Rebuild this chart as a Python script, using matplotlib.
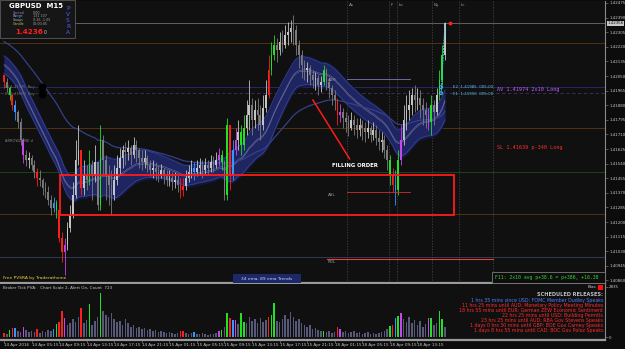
import matplotlib
matplotlib.use('Agg')
import matplotlib.pyplot as plt
from matplotlib.patches import Rectangle
import numpy as np
import pandas as pd

# [START data]  GBPUSD M15, prices in points above 1.40000
close_pts = [2015, 1980, 1939, 1881, 1840, 1782, 1677, 1590, 1561, 1572,
             1532, 1491, 1456, 1444, 1398, 1375, 1328, 1281, 1310, 1270,
             1107, 1025, 1066, 1165, 1241, 1357, 1561, 1619, 1398, 1473,
             1444, 1532, 1473, 1549, 1299, 1677, 1561, 1473, 1415, 1357,
             1444, 1514, 1572, 1619, 1607, 1631, 1590, 1648, 1619, 1572,
             1549, 1572, 1532, 1503, 1514, 1491, 1473, 1503, 1468, 1444,
             1456, 1433, 1444, 1415, 1386, 1409, 1456, 1491, 1514, 1491,
             1514, 1532, 1503, 1532, 1514, 1549, 1532, 1561, 1590, 1549,
             1357, 1764, 1473, 1619, 1677, 1724, 1648, 1747, 1823, 1881,
             1794, 1852, 1823, 1764, 1863, 1939, 2085, 2172, 2230, 2201,
             2248, 2230, 2288, 2306, 2329, 2317, 2230, 2172, 2114, 2085,
             2096, 2056, 2026, 2038, 1997, 2015, 2085, 2015, 1980, 1939,
             1910, 1823, 1840, 1805, 1782, 1747, 1794, 1764, 1735, 1764,
             1747, 1724, 1747, 1706, 1735, 1689, 1666, 1677, 1619, 1561,
             1473, 1415, 1386, 1561, 1677, 1794, 1852, 1881, 1939, 1910,
             1922, 1881, 1852, 1823, 1782, 1881, 1840, 1939, 2026, 2172,
             2356]
high_pts = [2056, 2038, 1992, 1945, 1910, 1852, 1805, 1689, 1619, 1607,
            1590, 1561, 1514, 1503, 1456, 1433, 1409, 1357, 1345, 1328,
            1299, 1142, 1107, 1200, 1299, 1433, 1677, 1764, 1619, 1561,
            1532, 1619, 1561, 1648, 1532, 1764, 1706, 1590, 1532, 1503,
            1532, 1590, 1631, 1648, 1666, 1677, 1648, 1695, 1677, 1631,
            1619, 1619, 1590, 1561, 1561, 1549, 1526, 1537, 1514, 1503,
            1503, 1491, 1491, 1473, 1456, 1456, 1503, 1532, 1561, 1549,
            1561, 1572, 1561, 1572, 1561, 1590, 1584, 1607, 1631, 1619,
            1561, 1805, 1764, 1677, 1747, 1794, 1764, 1823, 1910, 2026,
            1922, 1910, 1922, 1881, 1939, 2026, 2172, 2248, 2288, 2271,
            2306, 2317, 2347, 2364, 2376, 2405, 2347, 2259, 2201, 2143,
            2131, 2114, 2085, 2073, 2056, 2050, 2114, 2096, 2038, 1997,
            1968, 1922, 1887, 1863, 1840, 1823, 1840, 1823, 1805, 1805,
            1794, 1782, 1794, 1764, 1782, 1764, 1735, 1724, 1706, 1648,
            1590, 1514, 1503, 1619, 1764, 1881, 1939, 1968, 1980, 1997,
            1980, 1968, 1922, 1898, 1863, 1939, 1910, 1980, 2085, 2230,
            2364]
low_pts = [1980, 1957, 1910, 1852, 1794, 1747, 1648, 1543, 1526, 1514,
           1503, 1456, 1409, 1409, 1357, 1340, 1299, 1241, 1258, 1223,
           1084, 967, 891, 1037, 1142, 1223, 1340, 1532, 1357, 1357,
           1386, 1415, 1328, 1433, 1270, 1270, 1473, 1328, 1299, 1241,
           1328, 1415, 1473, 1514, 1532, 1561, 1532, 1572, 1549, 1514,
           1503, 1514, 1491, 1468, 1456, 1444, 1433, 1456, 1421, 1409,
           1409, 1386, 1398, 1375, 1340, 1351, 1386, 1433, 1456, 1444,
           1468, 1473, 1456, 1473, 1473, 1491, 1491, 1514, 1526, 1503,
           1328, 1328, 1386, 1444, 1590, 1619, 1590, 1619, 1706, 1735,
           1706, 1747, 1735, 1677, 1735, 1840, 1922, 2056, 2143, 2131,
           2172, 2189, 2213, 2230, 2248, 2230, 2172, 2096, 2038, 2026,
           2015, 1997, 1980, 1968, 1939, 1957, 1997, 1968, 1922, 1881,
           1852, 1764, 1782, 1747, 1724, 1700, 1735, 1706, 1689, 1700,
           1677, 1666, 1689, 1666, 1677, 1648, 1619, 1607, 1572, 1503,
           1415, 1375, 1299, 1357, 1532, 1648, 1735, 1794, 1823, 1840,
           1852, 1805, 1764, 1747, 1735, 1706, 1764, 1823, 1910, 1997,
           2143]
volume = [230, 170, 400, 510, 510, 340, 290, 570, 400, 290,
          340, 290, 460, 230, 340, 290, 400, 340, 460, 740,
          850, 1470, 1080, 680, 790, 1020, 850, 1130, 1640, 790,
          960, 1870, 680, 910, 1130, 2500, 1470, 1250, 1130, 1360,
          1020, 850, 910, 680, 1020, 790, 570, 680, 510, 570,
          460, 510, 400, 460, 340, 400, 290, 340, 290, 230,
          290, 230, 170, 230, 340, 340, 230, 170, 230, 290,
          170, 170, 230, 170, 110, 170, 170, 230, 340, 400,
          570, 1360, 1080, 960, 960, 740, 1360, 850, 790, 1130,
          910, 1020, 790, 1080, 850, 960, 1130, 1250, 1930, 910,
          850, 1020, 1250, 1020, 1420, 1130, 910, 1020, 790, 680,
          570, 680, 460, 510, 400, 340, 340, 290, 340, 230,
          290, 570, 460, 290, 340, 230, 290, 340, 230, 290,
          170, 230, 290, 170, 230, 170, 230, 290, 340, 460,
          620, 680, 1080, 1190, 1360, 1020, 850, 1130, 790, 960,
          680, 910, 570, 740, 1080, 1080, 680, 790, 1470, 1020,
          570]

# PVSRA coloured bars
red_bars = [0, 3, 12, 20, 21, 28, 64, 65, 82, 96, 121, 141]
green_bars = [2, 19, 31, 35, 79, 81, 86, 87, 97, 98, 116, 140, 143, 155, 158, 159]
blue_bars = [4, 18, 69, 83, 142]
magenta_bars = [7, 22, 78, 84, 122, 144, 154]

# indicator starting values
ribbon_start_hi = 1.42178
ribbon_start_lo = 1.42073
ema89_start = 1.42259

date_ticks = [0, 10, 20, 30, 40, 50, 60, 70, 80, 90, 100, 110, 120, 130, 140, 150]
date_labels = ['14 Apr 2016', '14 Apr 05:15', '14 Apr 09:15', '14 Apr 13:15',
               '14 Apr 17:15', '14 Apr 21:15', '15 Apr 01:15', '15 Apr 05:15',
               '15 Apr 09:15', '15 Apr 13:15', '15 Apr 17:15', '15 Apr 21:15',
               '18 Apr 01:15', '18 Apr 05:15', '18 Apr 09:15', '18 Apr 13:15']
price_ticks = [1.42475, 1.42390, 1.42305, 1.42220, 1.42135, 1.42050, 1.41965,
               1.41880, 1.41795, 1.41710, 1.41625, 1.41540, 1.41455, 1.41370,
               1.41285, 1.41200, 1.41115, 1.41030, 1.40945, 1.40860]

current_price = 1.42356
orange_levels = [1.42242, 1.41748, 1.41247]
green_level = 1.41491
low_level = 1.40997
e2_price = 1.41985
e1_price = 1.41950
av_price = 1.41974
sl_price = 1.41639
ash_price, asl_price, rdl_price = 1.42033, 1.41375, 1.40985
session_bars = [124.5, 139.7, 142.6, 155.3, 165.1, 177.4]
session_names = ['As', 'F', 'Lo', 'Ny', 'Lc', '']
zone_bars = (20.3, 163.3)
zone_prices = (1.41241, 1.41474)
arrow_bars = (112.1, 125.4)
arrow_prices = (1.41910, 1.41568)

releases = ['1 hrs 35 mins since USD: FOMC Member Dudley Speaks',
            '11 hrs 25 mins until AUD: Monetary Policy Meeting Minutes',
            '18 hrs 55 mins until EUR: German ZEW Economic Sentiment',
            '22 hrs 25 mins until USD: Building Permits',
            '23 hrs 25 mins until AUD: RBA Gov Stevens Speaks',
            '1 days 0 hrs 30 mins until GBP: BOE Gov Carney Speaks',
            '1 days 8 hrs 55 mins until CAD: BOC Gov Poloz Speaks']
release_colors = ['#4f7cff'] + ['#ff2b2b'] * 6
# [END data]

closes = 1.4 + np.array(close_pts) / 1e5
highs = 1.4 + np.array(high_pts) / 1e5
lows = 1.4 + np.array(low_pts) / 1e5
opens = np.r_[highs[0], closes[:-1]]
x = np.arange(len(closes))

colors = np.where(closes >= opens, '#c4c4c4', '#7c7c7c').astype(object)
vol_colors = np.full(len(x), '#585878', dtype=object)
for idx, c in [(red_bars, '#ff1e1e'), (green_bars, '#22e022'),
               (blue_bars, '#3399ff'), (magenta_bars, '#c845f0')]:
    colors[idx] = c
    vol_colors[idx] = c

rib_hi = pd.Series(np.r_[ribbon_start_hi, highs]).ewm(span=21, adjust=False).mean().values[1:]
rib_lo = pd.Series(np.r_[ribbon_start_lo, lows]).ewm(span=21, adjust=False).mean().values[1:]
rib_mid = pd.Series(np.r_[(ribbon_start_hi + ribbon_start_lo) / 2, closes]).ewm(span=21, adjust=False).mean().values[1:]
ema89 = pd.Series(np.r_[ema89_start, closes]).ewm(span=56, adjust=False).mean().values[1:]

BG = '#101010'
fig = plt.figure(figsize=(6.25, 3.49), dpi=100, facecolor='#0c0c0c')
W, H = 625, 349

def px_axes(x0, y0, x1, y1):
    return fig.add_axes([x0 / W, 1 - y1 / H, (x1 - x0) / W, (y1 - y0) / H])

ax = px_axes(0, 1, 605, 283)
vax = px_axes(0, 284, 605, 340)
for a in (ax, vax):
    a.set_facecolor(BG)
    a.set_xlim(-1.45, 218.07)
    for s in ('left', 'top'):
        a.spines[s].set_visible(False)
    a.spines['right'].set_color('#8a8a8a')
    a.spines['bottom'].set_color('#9a9a9a')
    a.spines['bottom'].set_linewidth(1.6)
    a.yaxis.tick_right()
    a.tick_params(axis='y', colors='#8a8a8a', labelcolor='#c8c8c8',
                  labelsize=2.9, length=2, width=0.4, pad=1)
ax.set_ylim(1.408454, 1.424866)
ax.set_xticks([])
ax.set_yticks(price_ticks)
ax.set_yticklabels([f'{p:.5f}' for p in price_ticks])

# horizontal levels
ax.axhline(current_price, color='#6e6e6e', lw=0.6, zorder=1)
for p in orange_levels:
    ax.axhline(p, color='#5c3812', lw=0.6, zorder=1)
ax.axhline(green_level, color='#1d4d1d', lw=0.6, zorder=1)
ax.axhline(low_level, color='#34405e', lw=0.6, zorder=1)
ax.axhline(e2_price, color='#2a2a7a', lw=0.6, zorder=1)
ax.axhline(e1_price, color='#40306a', lw=0.6, ls=(0, (4, 3)), zorder=1)

# session lines
for b, name in zip(session_bars, session_names):
    ax.axvline(b, color='#4a4a4a', lw=0.5, ls=(0, (2, 2)), zorder=1)
    ax.text(b + 0.7, 1.42462, name, color='#9a9a9a', fontsize=3, va='center')

# ema ribbon
ax.fill_between(x, rib_lo - 0.00012, rib_hi + 0.00012, color='#141838', lw=0, zorder=2)
ax.fill_between(x, rib_lo, rib_hi, color='#1e2560', lw=0, zorder=2)
ax.plot(x, rib_hi, color='#34429a', lw=0.6, zorder=2)
ax.plot(x, rib_lo, color='#34429a', lw=0.6, zorder=2)
ax.plot(x, rib_mid + 0.00004, color='#8486b8', lw=0.3, zorder=2)
ax.plot(x, rib_mid - 0.00004, color='#8486b8', lw=0.3, zorder=2)
ax.plot(x, ema89, color='#34418a', lw=0.9, zorder=2)

# candles
ax.vlines(x, lows, highs, colors=list(colors), lw=0.6, zorder=3)
body = np.maximum(np.abs(closes - opens), 0.00002)
ax.bar(x, body, bottom=np.minimum(opens, closes), width=0.6, color=list(colors), lw=0, zorder=3)

# session high / low lines
ax.plot([session_bars[0], 147.3], [ash_price] * 2, color='#7a7ab8', lw=0.6, zorder=3)
ax.text(117.5, ash_price - 0.00004, 'ASH', color='#9a9a9a', fontsize=3, va='center')
ax.plot([session_bars[0], 147.3], [asl_price] * 2, color='#d03030', lw=0.6, zorder=3)
ax.text(117.5, asl_price - 0.0002, 'ASL', color='#9a9a9a', fontsize=3, va='center')
ax.plot([117.2, session_bars[5]], [rdl_price] * 2, color='#e04040', lw=0.8, zorder=3)
ax.text(117.5, rdl_price - 0.0002, 'RDL', color='#9a9a9a', fontsize=3, va='center')

# filling zone annotation
ax.add_patch(Rectangle((zone_bars[0], zone_prices[0]), zone_bars[1] - zone_bars[0],
                       zone_prices[1] - zone_prices[0], fill=False,
                       edgecolor='#ff1a1a', lw=1.3, zorder=5))
ax.plot(arrow_bars, arrow_prices, color='#ff1a1a', lw=1.1, zorder=5)
ax.text(127.5, 1.41530, 'FILLING ORDER', color='white', fontsize=3.9,
        fontweight='bold', ha='center', va='center', zorder=6)

# trade markers
ax.plot([158.6, 160.0], [e1_price - 0.00003, current_price], color='#3ec8ec',
        lw=0.7, ls=(0, (2, 1)), zorder=6)
ax.scatter([158.6, 158.6], [e2_price, e1_price], s=5, facecolor='none',
           edgecolor='#3ec8ec', lw=0.6, zorder=6)
ax.scatter([161.8], [current_price], s=3, color='#ff2020', zorder=6)
ax.scatter([13.7, 13.7], [e2_price, e1_price - 0.00003], s=22, color='black', zorder=6)
ax.text(0.5, e2_price + 0.00004, 'E2 1.41985  Buy', color='#707070', fontsize=2.6, va='center', zorder=7)
ax.text(0.5, e1_price - 0.00006, 'E1 1.41950  Buy', color='#707070', fontsize=2.6, va='center', zorder=7)
ax.text(0.5, 1.41670, 'ARROWZONE d', color='#808080', fontsize=2.6, va='center', zorder=7)

ax.text(163.0, e2_price, 'E2  1.41985  005:00', color='#5cc0dc', fontsize=2.9, va='center')
ax.text(163.0, e1_price - 0.00005, 'E1  1.41950  005:00', color='#5cc0dc', fontsize=2.9, va='center')
ax.text(179.0, av_price - 0.00003, 'AV 1.41974 2x10 Long', color='#c060ff', fontsize=3.7,
        family='DejaVu Sans Mono', va='center')
ax.text(179.0, sl_price - 0.00006, 'SL 1.41639 p-340 Long', color='#ff3030', fontsize=3.7,
        family='DejaVu Sans Mono', va='center')

# current price tag
ax.text(1.004, current_price, f'{current_price:.5f}', transform=ax.get_yaxis_transform(),
        fontsize=2.9, color='#101010', va='center', ha='left',
        bbox=dict(boxstyle='square,pad=0.15', fc='#c8c8c8', ec='none'))

# volume panel
vax.bar(x, volume, width=0.55, color=list(vol_colors), lw=0)
vax.set_ylim(-170, 3005)
vax.set_yticks([0, 2835])
vax.set_yticklabels(['0', '2835'])
vax.set_xticks(date_ticks)
vax.set_xticklabels(date_labels, ha='left')
vax.tick_params(axis='x', colors='#8a8a8a', labelcolor='#c8c8c8', labelsize=3.0,
                length=2, width=0.4, pad=0.5)

# overlay for panel texts, in pixels
ov = fig.add_axes([0, 0, 1, 1], facecolor='none')
ov.set_xlim(0, W)
ov.set_ylim(H, 0)
ov.axis('off')

ov.add_patch(Rectangle((0, 0), 75, 38, fc='#161616', ec='#5a5a5a', lw=0.6))
ov.text(9, 6.5, 'GBPUSD  M15', color='white', fontsize=5, fontweight='bold', va='center')
info = [('Spread', '0.00', '#b06ad0'), ('Range', '131 107', '#8ab0d0'),
        ('Swaps', '0.26 -1.05', '#8ab0d0'), ('Candle', '00:00:05', '#d0c840')]
for (lab, val, c), yy in zip(info, [12.7, 15.7, 19.7, 24.3]):
    ov.text(13, yy, lab, color=c, fontsize=2.4, va='center')
    ov.text(33, yy, val, color='#a0a0a0', fontsize=2.4, va='center')
ov.text(15, 32, '1.4236', color='#ff1e1e', fontsize=5.2, fontweight='bold', va='center')
ov.text(44, 33, '0', color='#c8c8c8', fontsize=3.3, va='center')
for ch, yy in zip('PVSRA', [8, 14, 20, 26, 32.5]):
    ov.text(68, yy, ch, color='#4a62ff', fontsize=4.2, ha='center', va='center')

ov.text(3, 278.5, 'Free PVSRA by Traderathome', color='#e8d040', fontsize=3.2, va='center')
ov.add_patch(Rectangle((233, 274), 68, 9, fc='#1c2868', ec='none'))
ov.text(267, 278.5, '34 ema, 89 ema Trends', color='#c8d0ff', fontsize=3.2, ha='center', va='center')
ov.add_patch(Rectangle((492, 272), 113, 11, fc='#0e0e0e', ec='#7a7a7a', lw=0.6))
ov.text(495, 277.5, 'F11: 2x10 avg p+38.6 = p+386, +16.38', color='#30d030',
        fontsize=3.5, family='DejaVu Sans Mono', va='center')

ov.text(3, 288, 'Broker Tick PVA:   Chart Scale 2, Alert On, Count  723',
        color='#c8c8c8', fontsize=3.0, va='center')
ov.text(596, 287.5, 'Bias', color='#c8c8c8', fontsize=3.0, ha='right', va='center')
ov.add_patch(Rectangle((598, 285), 4.5, 4.5, fc='#ff1010', ec='none'))
ov.text(603, 295, 'SCHEDULED RELEASES:', color='#c0c0c0', fontsize=3.6,
        fontweight='bold', ha='right', va='center')
for k, (line, c) in enumerate(zip(releases, release_colors)):
    ov.text(603, 300.5 + 5 * k, line, color=c, fontsize=3.4, ha='right', va='center')

fig.savefig('out.png', dpi=100, facecolor=fig.get_facecolor())
